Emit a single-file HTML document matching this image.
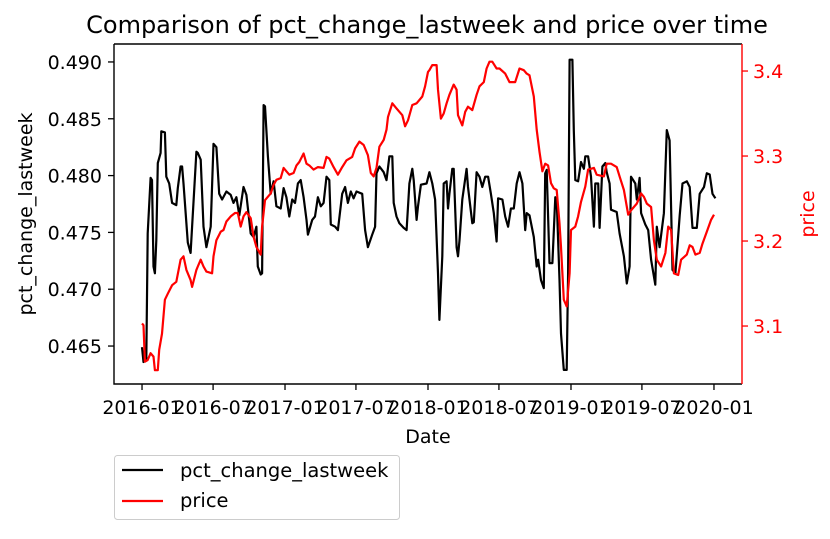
<!DOCTYPE html>
<html><head><meta charset="utf-8"><style>
html,body{margin:0;padding:0;background:#fff}
svg text{font-family:"DejaVu Sans","Liberation Sans",sans-serif}
</style></head><body>
<svg id="chart" width="830" height="534" xmlns="http://www.w3.org/2000/svg">
<rect width="830" height="534" fill="#fff"/>
<g id="plot"></g>
</svg>
<script>
const pctDates=[2016.00,2016.01,2016.03,2016.04,2016.06,2016.07,2016.08,2016.09,2016.10,2016.11,2016.13,2016.135,2016.16,2016.17,2016.19,2016.21,2016.24,2016.25,2016.27,2016.28,2016.29,2016.32,2016.34,2016.35,2016.38,2016.39,2016.41,2016.43,2016.45,2016.48,2016.50,2016.52,2016.54,2016.56,2016.59,2016.62,2016.64,2016.66,2016.68,2016.71,2016.73,2016.76,2016.78,2016.80,2016.81,2016.83,2016.84,2016.85,2016.86,2016.88,2016.90,2016.92,2016.94,2016.97,2016.99,2017.01,2017.03,2017.05,2017.07,2017.09,2017.11,2017.13,2017.15,2017.16,2017.19,2017.21,2017.23,2017.25,2017.27,2017.29,2017.31,2017.32,2017.35,2017.37,2017.40,2017.42,2017.44,2017.46,2017.48,2017.50,2017.54,2017.56,2017.58,2017.61,2017.63,2017.64,2017.66,2017.69,2017.71,2017.73,2017.75,2017.76,2017.78,2017.80,2017.83,2017.85,2017.87,2017.89,2017.90,2017.92,2017.93,2017.95,2017.99,2018.01,2018.03,2018.05,2018.07,2018.08,2018.10,2018.11,2018.13,2018.14,2018.15,2018.17,2018.18,2018.20,2018.21,2018.22,2018.24,2018.27,2018.28,2018.31,2018.32,2018.33,2018.34,2018.36,2018.38,2018.40,2018.42,2018.44,2018.46,2018.48,2018.49,2018.52,2018.54,2018.56,2018.58,2018.60,2018.62,2018.64,2018.66,2018.68,2018.69,2018.71,2018.74,2018.76,2018.77,2018.79,2018.81,2018.82,2018.83,2018.85,2018.87,2018.89,2018.90,2018.92,2018.93,2018.95,2018.97,2018.98,2018.99,2019.01,2019.02,2019.03,2019.05,2019.07,2019.09,2019.10,2019.12,2019.14,2019.16,2019.17,2019.19,2019.20,2019.22,2019.24,2019.25,2019.27,2019.28,2019.32,2019.34,2019.37,2019.39,2019.41,2019.42,2019.45,2019.46,2019.48,2019.49,2019.52,2019.54,2019.56,2019.59,2019.60,2019.62,2019.65,2019.67,2019.69,2019.71,2019.73,2019.76,2019.78,2019.81,2019.83,2019.85,2019.88,2019.90,2019.93,2019.95,2019.97,2019.99,2020.01];
const pctValues=[0.4649,0.4636,0.4638,0.4749,0.4798,0.4796,0.4720,0.4714,0.4743,0.4811,0.4820,0.4839,0.4838,0.4799,0.4793,0.4776,0.4774,0.4789,0.4808,0.4808,0.4793,0.4741,0.4732,0.4755,0.4821,0.4820,0.4814,0.4755,0.4737,0.4755,0.4828,0.4825,0.4784,0.4779,0.4786,0.4783,0.4776,0.4781,0.4765,0.4790,0.4783,0.4749,0.4746,0.4755,0.4720,0.4713,0.4714,0.4862,0.4861,0.4817,0.4784,0.4795,0.4773,0.4771,0.4789,0.4781,0.4764,0.4779,0.4776,0.4793,0.4796,0.4781,0.4761,0.4748,0.4761,0.4764,0.4781,0.4773,0.4776,0.4799,0.4796,0.4757,0.4755,0.4752,0.4784,0.4790,0.4776,0.4786,0.4780,0.4786,0.4784,0.4752,0.4737,0.4748,0.4755,0.4802,0.4808,0.4803,0.4796,0.4817,0.4817,0.4776,0.4764,0.4758,0.4754,0.4752,0.4793,0.4806,0.4796,0.4761,0.4773,0.4792,0.4793,0.4803,0.4793,0.4779,0.4714,0.4673,0.4729,0.4793,0.4795,0.4771,0.4784,0.4806,0.4806,0.4737,0.4729,0.4743,0.4779,0.4806,0.4790,0.4758,0.4759,0.4781,0.4803,0.4799,0.4790,0.4799,0.4799,0.4784,0.4767,0.4742,0.4780,0.4779,0.4764,0.4755,0.4771,0.4771,0.4793,0.4803,0.4793,0.4752,0.4767,0.4765,0.4746,0.4720,0.4726,0.4708,0.4701,0.4802,0.4805,0.4723,0.4723,0.4781,0.4779,0.4708,0.4661,0.4629,0.4629,0.4714,0.4902,0.4902,0.4840,0.4796,0.4795,0.4812,0.4806,0.4817,0.4817,0.4799,0.4755,0.4793,0.4793,0.4754,0.4808,0.4811,0.4803,0.4793,0.4770,0.4768,0.4749,0.4729,0.4705,0.4720,0.4799,0.4793,0.4779,0.4798,0.4767,0.4757,0.4752,0.4726,0.4704,0.4755,0.4737,0.4767,0.4840,0.4831,0.4717,0.4714,0.4765,0.4793,0.4795,0.4790,0.4754,0.4754,0.4784,0.4790,0.4802,0.4801,0.4784,0.4780];
const priceDates=[2016.00,2016.01,2016.02,2016.04,2016.06,2016.08,2016.09,2016.11,2016.12,2016.14,2016.16,2016.18,2016.21,2016.24,2016.27,2016.29,2016.31,2016.34,2016.35,2016.38,2016.39,2016.41,2016.43,2016.45,2016.49,2016.50,2016.52,2016.55,2016.57,2016.59,2016.62,2016.65,2016.67,2016.69,2016.71,2016.73,2016.76,2016.78,2016.80,2016.83,2016.84,2016.86,2016.90,2016.92,2016.94,2016.97,2016.99,2017.01,2017.03,2017.06,2017.08,2017.10,2017.13,2017.15,2017.17,2017.20,2017.23,2017.27,2017.29,2017.31,2017.34,2017.37,2017.40,2017.43,2017.47,2017.49,2017.52,2017.55,2017.58,2017.60,2017.62,2017.64,2017.66,2017.69,2017.71,2017.72,2017.75,2017.78,2017.82,2017.84,2017.86,2017.89,2017.92,2017.96,2017.98,2018.00,2018.01,2018.03,2018.06,2018.07,2018.09,2018.11,2018.13,2018.15,2018.18,2018.20,2018.21,2018.24,2018.26,2018.28,2018.31,2018.34,2018.36,2018.39,2018.41,2018.43,2018.45,2018.48,2018.50,2018.54,2018.57,2018.61,2018.64,2018.67,2018.69,2018.71,2018.74,2018.76,2018.78,2018.80,2018.82,2018.84,2018.86,2018.88,2018.90,2018.92,2018.93,2018.95,2018.97,2018.99,2019.00,2019.03,2019.05,2019.07,2019.10,2019.12,2019.16,2019.18,2019.23,2019.25,2019.28,2019.32,2019.34,2019.37,2019.40,2019.42,2019.46,2019.49,2019.51,2019.53,2019.56,2019.58,2019.60,2019.63,2019.66,2019.68,2019.70,2019.72,2019.75,2019.77,2019.81,2019.83,2019.85,2019.87,2019.90,2019.92,2019.95,2019.98,2020.00];
const priceValues=[3.103,3.101,3.058,3.060,3.068,3.064,3.048,3.048,3.072,3.091,3.131,3.138,3.148,3.152,3.178,3.182,3.166,3.154,3.146,3.166,3.170,3.178,3.170,3.164,3.162,3.182,3.201,3.211,3.213,3.223,3.229,3.233,3.233,3.217,3.229,3.234,3.227,3.205,3.193,3.184,3.217,3.248,3.256,3.266,3.272,3.274,3.286,3.282,3.278,3.280,3.289,3.293,3.303,3.291,3.289,3.284,3.287,3.286,3.299,3.297,3.287,3.278,3.287,3.295,3.299,3.309,3.317,3.313,3.301,3.280,3.276,3.286,3.311,3.319,3.331,3.346,3.362,3.356,3.348,3.335,3.342,3.360,3.362,3.370,3.382,3.399,3.401,3.407,3.407,3.378,3.344,3.350,3.362,3.372,3.384,3.378,3.348,3.336,3.352,3.358,3.354,3.372,3.382,3.387,3.403,3.411,3.411,3.403,3.403,3.397,3.387,3.387,3.403,3.401,3.397,3.395,3.370,3.331,3.305,3.282,3.291,3.289,3.268,3.262,3.260,3.221,3.193,3.131,3.123,3.162,3.213,3.217,3.229,3.246,3.264,3.284,3.286,3.278,3.276,3.291,3.291,3.287,3.276,3.260,3.231,3.236,3.244,3.256,3.252,3.244,3.240,3.201,3.178,3.170,3.186,3.217,3.213,3.162,3.160,3.178,3.184,3.195,3.193,3.184,3.186,3.197,3.211,3.225,3.231];
const xTickValues=[2016.0,2016.497,2017.0,2017.496,2018.0,2018.496,2019.0,2019.496,2020.0];
const xTickLabels=["2016-01","2016-07","2017-01","2017-07","2018-01","2018-07","2019-01","2019-07","2020-01"];
const leftTicks=[0.465,0.470,0.475,0.480,0.485,0.490];
const rightTicks=[3.1,3.2,3.3,3.4];

const L=114,R=742,T=44,B=384;
const xMin=2015.804,xMax=2020.196,lMin=0.46166,lMax=0.49158,rMin=3.0318,rMax=3.4318;
const xs=t=>L+(t-xMin)/(xMax-xMin)*(R-L);
const yl=v=>B-(v-lMin)/(lMax-lMin)*(B-T);
const yr=v=>B-(v-rMin)/(rMax-rMin)*(B-T);
const NS="http://www.w3.org/2000/svg";
const g=document.getElementById('plot');
function mk(tag,attrs,parent){const e=document.createElementNS(NS,tag);for(const k in attrs)e.setAttribute(k,attrs[k]);(parent||g).appendChild(e);return e;}
function txt(s,attrs){const e=mk('text',attrs);e.textContent=s;return e;}

let d=pctDates.map((t,i)=>(i?'L':'M')+xs(t).toFixed(1)+' '+yl(pctValues[i]).toFixed(1)).join(' ');
const lp=mk('path',{d:d,fill:'none',stroke:'#000','stroke-width':2.2,'stroke-linejoin':'round'});


d=priceDates.map((t,i)=>(i?'L':'M')+xs(t).toFixed(1)+' '+yr(priceValues[i]).toFixed(1)).join(' ');
const rp=mk('path',{d:d,fill:'none',stroke:'#f00','stroke-width':2.2,'stroke-linejoin':'round'});



const fr=mk('path',{d:`M${L} ${T}V${B}H${R}M${L} ${T}H${R}`,fill:'none',stroke:'#000','stroke-width':1.4});


const rs=mk('line',{x1:R,y1:T,x2:R,y2:B,stroke:'#f00','stroke-width':1.4});



xTickValues.forEach((t,i)=>{const x=xs(t);
 const tk=mk('line',{x1:x,y1:B,x2:x,y2:B+6,stroke:'#000','stroke-width':1.3});
 
 
 const lb=txt(xTickLabels[i],{x:x,y:B+30,'text-anchor':'middle','font-size':19,fill:'#000'});
 
 
});
leftTicks.forEach(v=>{const y=yl(v);
 const tk=mk('line',{x1:L-6,y1:y,x2:L,y2:y,stroke:'#000','stroke-width':1.3});
 
 
 const lb=txt(v.toFixed(3),{x:L-12,y:y+7,'text-anchor':'end','font-size':19,fill:'#000'});
 
 
});
rightTicks.forEach(v=>{const y=yr(v);
 const tk=mk('line',{x1:R,y1:y,x2:R+6,y2:y,stroke:'#f00','stroke-width':1.3});
 
 
 const lb=txt(v.toFixed(1),{x:R+11,y:y+7,'text-anchor':'start','font-size':19,fill:'#f00'});
 
 
});
</script>
<svg width="830" height="534" style="position:absolute;left:0;top:0" xmlns="http://www.w3.org/2000/svg">
<text x="427" y="33" text-anchor="middle" font-size="24" font-family="DejaVu Sans,Liberation Sans,sans-serif">Comparison of pct_change_lastweek and price over time</text>
<text x="428" y="443" text-anchor="middle" font-size="19" font-family="DejaVu Sans,Liberation Sans,sans-serif">Date</text>
<text transform="translate(32,214) rotate(-90)" text-anchor="middle" font-size="19" font-family="DejaVu Sans,Liberation Sans,sans-serif">pct_change_lastweek</text>
<text transform="translate(814,214) rotate(-90)" text-anchor="middle" font-size="19" fill="#f00" font-family="DejaVu Sans,Liberation Sans,sans-serif">price</text>
<g>
<rect x="114.5" y="455.5" width="285" height="64" rx="3" fill="#fff" stroke="#ccc"/>
<line x1="122" y1="470" x2="163" y2="470" stroke="#000" stroke-width="2.2"/>
<text x="180" y="477" font-size="19.5" font-family="DejaVu Sans,Liberation Sans,sans-serif">pct_change_lastweek</text>
<line x1="122" y1="501" x2="163" y2="501" stroke="#f00" stroke-width="2.2"/>
<text x="180" y="507" font-size="19.5" font-family="DejaVu Sans,Liberation Sans,sans-serif">price</text>
</g>
</svg>
</body></html>
